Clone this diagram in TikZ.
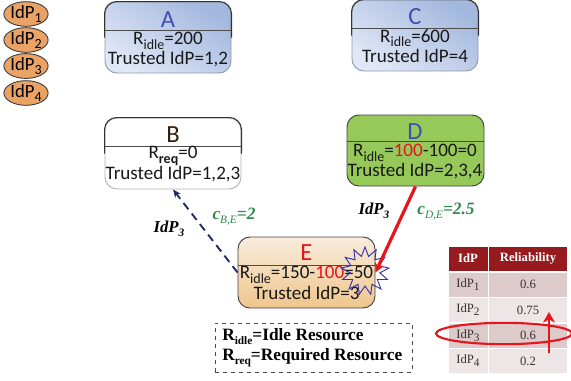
\documentclass[tikz,border=0pt]{standalone}
\usepackage{fontspec}
\setmainfont{Carlito}
\newfontfamily\serifface{Liberation Serif}
\usetikzlibrary{shapes.geometric,arrows.meta,calc}
\definecolor{ablue}{HTML}{3F51B0}
\definecolor{navy}{HTML}{1F2A66}
\definecolor{redline}{HTML}{E8141C}
\definecolor{cgreen}{HTML}{2E8B4A}
\definecolor{hdr}{HTML}{951B1E}
\definecolor{rowa}{HTML}{DDCACA}
\definecolor{rowb}{HTML}{EEE5E6}
\definecolor{idpfill}{HTML}{EBA365}
\definecolor{bluedark}{HTML}{A3B8DE}
\definecolor{bluelight}{HTML}{E0E7F6}
\definecolor{dgreen}{HTML}{96C95A}
\definecolor{tantop}{HTML}{F9ECDD}
\definecolor{tanbot}{HTML}{EFC68C}
\newcommand{\lowsub}[1]{\raisebox{-.5ex}{\fontsize{10.5}{10.5}\selectfont #1}}
\newcommand{\lowsubb}[1]{\raisebox{-.5ex}{\fontsize{8.5}{8.5}\selectfont #1}}
\newcommand{\lowsubc}[1]{\raisebox{-.5ex}{\fontsize{8.5}{8.5}\selectfont #1}}
\tikzset{
  x=0.75pt,y=-0.75pt,
  cardbox/.style={rectangle,rounded corners=9pt,minimum width=#1*0.75pt,minimum height=53.25pt,inner sep=0pt,line width=0.7pt},
  bluecard/.style={top color=bluedark,bottom color=bluelight,shading angle=-35,draw=bluedark!70!black!80},
  topedge/.style={rounded corners=9pt,draw=black!80,line width=0.8pt},
  cardtitle/.style={font=\fontsize{18.5}{18.5}\selectfont,inner sep=0pt,anchor=center},
  cardtext/.style={font=\fontsize{14.3}{14.3}\selectfont,inner sep=0pt,anchor=center,text=black!90},
  divider/.style={draw=black!70,line width=0.7pt},
  idp/.style={ellipse,draw=black!75,line width=0.7pt,fill=idpfill,minimum width=33pt,minimum height=18pt,inner sep=0pt,font=\fontsize{14}{14}\selectfont},
  edgelab/.style={font=\serifface\bfseries\itshape\fontsize{12.5}{12.5}\selectfont,inner sep=0pt},
  costlab/.style={font=\serifface\bfseries\itshape\fontsize{13}{13}\selectfont,inner sep=0pt,text=cgreen},
  cell/.style={rectangle,minimum height=18pt,inner sep=0pt,font=\serifface\fontsize{9.5}{9.5}\selectfont,text=black!80},
  hcell/.style={cell,fill=hdr,text=white,font=\serifface\bfseries\fontsize{9.5}{9.5}\selectfont},
  cola/.style={minimum width=29.25pt},
  colb/.style={minimum width=58.5pt},
  legendline/.style={font=\serifface\bfseries\fontsize{13}{13}\selectfont,inner sep=0pt,anchor=west},
}
\begin{document}
\begin{tikzpicture}
\useasboundingbox (0,0) rectangle (571,380);
\clip (0,0) rectangle (571,380);

% provider ellipses
\node[idp] (p1) at (26,14) {IdP\lowsub{1}};
\node[idp] (p2) at (26,40) {IdP\lowsub{2}};
\node[idp] (p3) at (26,66) {IdP\lowsub{3}};
\node[idp] (p4) at (26,93) {IdP\lowsub{4}};

% cards
\node[cardbox=126,bluecard] (A) at (168,37.5) {};
\node[cardbox=136,draw=black!30,fill=white] (B) at (173,153.5) {};
\node[cardbox=126,bluecard] (C) at (415,35.5) {};
\node[cardbox=137,draw=black!75,fill=dgreen] (D) at (415.5,150.5) {};
\node[cardbox=137,draw=black!75,top color=tantop,bottom color=tanbot] (E) at (306.5,272.5) {};

\draw[topedge] (A.west) |- (A.north) -| (A.east);
\draw[topedge] (B.west) |- (B.north) -| (B.east);
\draw[topedge] (C.west) |- (C.north) -| (C.east);

\draw[divider] ($(A.north west)+(0,29)$) -- ($(A.north east)+(0,29)$);
\draw[divider] ($(B.north west)+(0,29)$) -- ($(B.north east)+(0,29)$);
\draw[divider] ($(C.north west)+(0,29)$) -- ($(C.north east)+(0,29)$);
\draw[divider] ($(D.north west)+(0,27)$) -- ($(D.north east)+(0,27)$);
\draw[divider] ($(E.north west)+(0,29)$) -- ($(E.north east)+(0,29)$);

\node[cardtitle,text=ablue] (At) at (168,20) {A};
\node[cardtext] (Aa) at (168,41) {R\lowsub{idle}=200};
\node[cardtext] (Ab) at (168,59) {Trusted IdP=1,2};

\node[cardtitle,text=black!75!brown] (Bt) at (173,135) {B};
\node[cardtext] (Ba) at (173,156) {R\lowsub{\bfseries req}=0};
\node[cardtext] (Bb) at (173,174) {Trusted IdP=1,2,3};

\node[cardtitle,text=ablue] (Ct) at (415,17) {C};
\node[cardtext] (Ca) at (415,38) {R\lowsub{idle}=600};
\node[cardtext] (Cb) at (415,56) {Trusted IdP=4};

\node[cardtitle,text=ablue] (Dt) at (415,132) {D};
\node[cardtext] (Da) at (415,153) {R\lowsub{idle}=\textcolor{redline}{100}-100=0};
\node[cardtext] (Db) at (415,171) {Trusted IdP=2,3,4};

\node[cardtitle,text=redline] (Et) at (306.5,253) {E};
\node[cardtext] (Ea) at (306.5,275) {R\lowsub{idle}=150-\textcolor{redline}{100}=50};
\node[cardtext] (Eb) at (306.5,293) {Trusted IdP=3};

% collision burst
\node[star,star points=13,star point ratio=1.6,draw=blue!60!black!80,line width=0.7pt,minimum size=36pt,inner sep=0pt] (burst) at (365,271) {};

% connectors
\draw[navy,line width=1.4pt,dash pattern=on 6pt off 4pt,-{Stealth[length=6pt,width=5pt]}] (E.west) -- (B.south);
\draw[redline,line width=2.4pt,-{Stealth[length=7pt,width=7pt]}] (D.south) -- (E.east);

\node[edgelab] (l1) at (169,229) {IdP\lowsubb{3}};
\node[edgelab] (l2) at (374,211) {IdP\lowsubb{3}};
\node[costlab] (c1) at (234,217) {c\lowsubc{\mdseries B,E}=2};
\node[costlab] (c2) at (446,212) {c\lowsubc{\mdseries D,E}=2.5};

% legend
\node[draw=black!70,dashed,line width=0.6pt,rectangle,minimum width=147.75pt,minimum height=36.75pt,inner sep=0pt] (leg) at (313.5,347.5) {};
\node[legendline] (la) at (222,337) {R\lowsubb{idle}=Idle Resource};
\node[legendline] (lb) at (222,358) {R\lowsubb{req}=Required Resource};

% table
\node[hcell,cola] (h1) at (468,258.5) {IdP};
\node[hcell,colb] (h2) at (528,258.5) {Reliability};
\node[cell,cola,fill=rowa] (r1a) at (468,284.5) {IdP\lowsubb{1}};
\node[cell,colb,fill=rowa] (r1b) at (528,284.5) {0.6};
\node[cell,cola,fill=rowb] (r2a) at (468,310) {IdP\lowsubb{2}};
\node[cell,colb,fill=rowb] (r2b) at (528,310) {0.75};
\node[cell,cola,fill=rowa] (r3a) at (468,335.5) {IdP\lowsubb{3}};
\node[cell,colb,fill=rowa] (r3b) at (528,335.5) {0.6};
\node[cell,cola,fill=rowb] (r4a) at (468,361) {IdP\lowsubb{4}};
\node[cell,colb,fill=rowb] (r4b) at (528,361) {0.2};

% highlight
\node[ellipse,draw=redline,line width=1.6pt,minimum width=102pt,minimum height=16pt,inner sep=0pt] (ring) at (504,333.5) {};
\coordinate (up0) at (549,353);
\coordinate (up1) at (549,312);
\draw[redline,line width=1.6pt,-{Stealth[length=8pt,width=9pt]}] (up0) -- (up1);
\end{tikzpicture}
\end{document}
